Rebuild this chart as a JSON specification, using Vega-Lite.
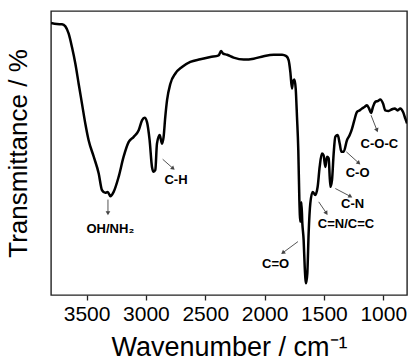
{
  "$schema": "https://vega.github.io/schema/vega-lite/v6.json",
  "width": 356,
  "height": 284,
  "autosize": "none",
  "padding": {"left": 51, "top": 11, "right": 1, "bottom": 66},
  "background": "white",
  "config": {
    "view": {"stroke": "#222", "strokeWidth": 1.4},
    "font": "Liberation Sans"
  },
  "datasets": {
    "spectrum": [
      {"wn": 3800, "t": 95.8}, {"wn": 3750, "t": 95.4}, {"wn": 3707, "t": 95.3}, {"wn": 3679, "t": 94.6},
      {"wn": 3651, "t": 92.0}, {"wn": 3623, "t": 87.2}, {"wn": 3595, "t": 81.5}, {"wn": 3567, "t": 74.4},
      {"wn": 3539, "t": 67.4}, {"wn": 3511, "t": 60.4}, {"wn": 3483, "t": 54.5}, {"wn": 3440, "t": 48.7},
      {"wn": 3398, "t": 42.8}, {"wn": 3370, "t": 36.9}, {"wn": 3342, "t": 36.0}, {"wn": 3322, "t": 36.3},
      {"wn": 3300, "t": 34.8}, {"wn": 3272, "t": 36.3}, {"wn": 3230, "t": 41.6}, {"wn": 3188, "t": 48.7},
      {"wn": 3145, "t": 53.9}, {"wn": 3103, "t": 55.7}, {"wn": 3061, "t": 58.0}, {"wn": 3033, "t": 61.5},
      {"wn": 3011, "t": 62.4}, {"wn": 2991, "t": 60.9}, {"wn": 2969, "t": 54.5}, {"wn": 2949, "t": 45.1},
      {"wn": 2935, "t": 43.4}, {"wn": 2921, "t": 44.0}, {"wn": 2907, "t": 53.3}, {"wn": 2884, "t": 56.3},
      {"wn": 2865, "t": 53.3}, {"wn": 2851, "t": 55.7}, {"wn": 2837, "t": 62.7}, {"wn": 2822, "t": 68.6},
      {"wn": 2794, "t": 74.4}, {"wn": 2752, "t": 78.0}, {"wn": 2696, "t": 80.3}, {"wn": 2626, "t": 82.1},
      {"wn": 2542, "t": 83.0}, {"wn": 2457, "t": 83.8}, {"wn": 2387, "t": 84.4}, {"wn": 2367, "t": 85.9},
      {"wn": 2350, "t": 85.0}, {"wn": 2317, "t": 84.6}, {"wn": 2261, "t": 83.6}, {"wn": 2176, "t": 82.9},
      {"wn": 2092, "t": 83.2}, {"wn": 2008, "t": 84.1}, {"wn": 1923, "t": 84.6}, {"wn": 1853, "t": 84.6},
      {"wn": 1817, "t": 84.1}, {"wn": 1797, "t": 82.6}, {"wn": 1783, "t": 78.5}, {"wn": 1769, "t": 72.7},
      {"wn": 1761, "t": 75.2}, {"wn": 1749, "t": 75.9}, {"wn": 1738, "t": 72.7}, {"wn": 1727, "t": 62.7},
      {"wn": 1716, "t": 51.0}, {"wn": 1707, "t": 33.4}, {"wn": 1699, "t": 25.8}, {"wn": 1690, "t": 32.7},
      {"wn": 1682, "t": 25.2}, {"wn": 1671, "t": 19.3}, {"wn": 1662, "t": 10.0}, {"wn": 1651, "t": 4.1},
      {"wn": 1640, "t": 7.6}, {"wn": 1629, "t": 21.7}, {"wn": 1615, "t": 32.2}, {"wn": 1595, "t": 36.3},
      {"wn": 1573, "t": 35.2}, {"wn": 1553, "t": 38.1}, {"wn": 1536, "t": 45.1}, {"wn": 1517, "t": 49.8},
      {"wn": 1503, "t": 49.2}, {"wn": 1488, "t": 45.1}, {"wn": 1474, "t": 48.7}, {"wn": 1460, "t": 48.1},
      {"wn": 1446, "t": 38.1}, {"wn": 1432, "t": 40.5}, {"wn": 1418, "t": 49.8}, {"wn": 1404, "t": 55.7},
      {"wn": 1384, "t": 56.3}, {"wn": 1367, "t": 53.3}, {"wn": 1353, "t": 50.4}, {"wn": 1334, "t": 50.4},
      {"wn": 1306, "t": 54.5}, {"wn": 1283, "t": 56.3}, {"wn": 1263, "t": 58.6}, {"wn": 1244, "t": 61.5},
      {"wn": 1221, "t": 64.5}, {"wn": 1199, "t": 65.0}, {"wn": 1179, "t": 65.7}, {"wn": 1159, "t": 66.2},
      {"wn": 1137, "t": 66.8}, {"wn": 1120, "t": 65.7}, {"wn": 1103, "t": 64.1}, {"wn": 1087, "t": 66.2},
      {"wn": 1067, "t": 68.0}, {"wn": 1047, "t": 68.3}, {"wn": 1025, "t": 68.8}, {"wn": 1002, "t": 67.4},
      {"wn": 983, "t": 65.0}, {"wn": 955, "t": 64.8}, {"wn": 926, "t": 65.4}, {"wn": 904, "t": 65.7},
      {"wn": 879, "t": 65.0}, {"wn": 856, "t": 65.7}, {"wn": 834, "t": 64.5}, {"wn": 814, "t": 62.1},
      {"wn": 800, "t": 60.4}
    ],
    "arrows": [
      {"name": "OH/NH₂", "x1": 3320, "y1": 33.6, "x2": 3320, "y2": 29.0, "dir": 180},
      {"name": "C-H", "x1": 2859, "y1": 47.8, "x2": 2775, "y2": 44.7, "dir": 132},
      {"name": "C=O", "x1": 1719, "y1": 18.8, "x2": 1842, "y2": 15.0, "dir": 232},
      {"name": "C=N/C=C", "x1": 1544, "y1": 32.8, "x2": 1482, "y2": 29.0, "dir": 147},
      {"name": "C-N", "x1": 1404, "y1": 37.5, "x2": 1281, "y2": 34.8, "dir": 119},
      {"name": "C-O", "x1": 1311, "y1": 50.4, "x2": 1210, "y2": 46.6, "dir": 133},
      {"name": "C-O-C", "x1": 1103, "y1": 63.3, "x2": 1055, "y2": 58.2, "dir": 159}
    ],
    "labels": [
      {"name": "OH/NH₂", "x": 3300, "y": 23.4},
      {"name": "C-H", "x": 2747, "y": 40.4},
      {"name": "C=O", "x": 1907, "y": 10.9},
      {"name": "C=N/C=C", "x": 1314, "y": 25.0},
      {"name": "C-N", "x": 1258, "y": 31.9},
      {"name": "C-O", "x": 1216, "y": 43.1},
      {"name": "C-O-C", "x": 1033, "y": 53.0}
    ]
  },
  "layer": [
    {
      "data": {"name": "spectrum"},
      "mark": {"type": "line", "color": "black", "strokeWidth": 2.5, "strokeJoin": "round", "interpolate": "monotone", "clip": true},
      "encoding": {
        "x": {
          "field": "wn", "type": "quantitative",
          "scale": {"domain": [800, 3800], "reverse": true, "nice": false, "zero": false},
          "axis": {
            "values": [3500, 3000, 2500, 2000, 1500, 1000], "format": "d",
            "grid": false, "domain": false, "tickColor": "#222", "tickSize": 5, "tickWidth": 1.3,
            "labelFontSize": 21, "labelColor": "black", "labelPadding": 3, "labelFont": "Liberation Sans",
            "title": "Wavenumber / cm⁻¹", "titleFontSize": 27, "titleFontWeight": "normal",
            "titleColor": "black", "titlePadding": 10, "titleFont": "Liberation Sans"
          }
        },
        "y": {
          "field": "t", "type": "quantitative",
          "scale": {"domain": [0, 100], "nice": false},
          "axis": {
            "labels": false, "ticks": false, "grid": false, "domain": false,
            "title": "Transmittance / %", "titleFontSize": 26, "titleFontWeight": "normal",
            "titleColor": "black", "titlePadding": 20, "titleFont": "Liberation Sans"
          }
        }
      }
    },
    {
      "data": {"name": "arrows"},
      "mark": {"type": "rule", "color": "#555", "strokeWidth": 1},
      "encoding": {
        "x": {"field": "x1", "type": "quantitative"},
        "y": {"field": "y1", "type": "quantitative"},
        "x2": {"field": "x2"},
        "y2": {"field": "y2"}
      }
    },
    {
      "data": {"name": "arrows"},
      "mark": {"type": "point", "shape": "triangle", "filled": true, "color": "#444", "size": 22, "opacity": 1},
      "encoding": {
        "x": {"field": "x2", "type": "quantitative"},
        "y": {"field": "y2", "type": "quantitative"},
        "angle": {"field": "dir", "type": "quantitative", "scale": null}
      }
    },
    {
      "data": {"name": "labels"},
      "mark": {"type": "text", "fontSize": 13, "fontWeight": "bold", "font": "Liberation Sans", "color": "black", "align": "center", "baseline": "middle"},
      "encoding": {
        "x": {"field": "x", "type": "quantitative"},
        "y": {"field": "y", "type": "quantitative"},
        "text": {"field": "name"}
      }
    }
  ]
}
